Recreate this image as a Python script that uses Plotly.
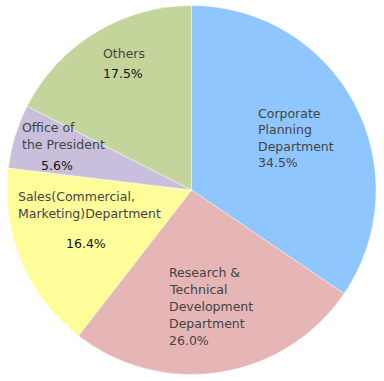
import plotly.graph_objects as go

labels = ["Corporate Planning Department", "Research & Technical Development Department",
          "Sales(Commercial, Marketing)Department", "Office of the President", "Others"]
values = [34.5, 26.0, 16.4, 5.6, 17.5]
colors = ["#8FC6FD", "#E6B5B5", "#FFFD9A", "#C9BFDD", "#C4D59C"]
label_lines = [
    ["Corporate", "Planning", "Department"],
    ["Research &", "Technical", "Development", "Department"],
    ["Sales(Commercial,", "Marketing)Department"],
    ["Office of", "the President"],
    ["Others"],
]
pct_text = [f"{v:.1f}%" for v in values]

W, H = 384, 381
ML, MR, MT, MB = 7, 8, 5, 6
PW, PH = W - ML - MR, H - MT - MB

# label layout (pixel positions of text lines)
name_pos = [(256, 113.5, 16.3), (166.5, 272.5, 16.9), (16, 196.5, 16.5), (20, 127.5, 16.7), (100.5, 54, 19)]
pct_pos = [((256, 162), "left", "#444"), ((166.5, 340), "left", "#444"), ((86, 243), "center", "#111"),
           ((56.5, 165), "center", "#111"), ((100.5, 73.5), "left", "#111")]

def px(x):
    return (x - ML) / PW

def py(y):
    return 1 - (y - MT) / PH

fig = go.Figure(go.Pie(
    labels=labels, values=values, sort=False, direction="clockwise", rotation=0,
    marker=dict(colors=colors, line=dict(color="rgba(255,255,255,0.6)", width=0.7)),
    textinfo="none", hoverinfo="label+percent", showlegend=False,
))

ann = []
for lines, (x0, y0, dy) in zip(label_lines, name_pos):
    for i, t in enumerate(lines):
        ann.append(dict(x=px(x0), y=py(y0 + i * dy), xref="paper", yref="paper", text=t,
                        showarrow=False, xanchor="left", yanchor="middle",
                        font=dict(family="DejaVu Sans", size=12.5, color="#444")))
for t, ((x0, y0), anchor, col) in zip(pct_text, pct_pos):
    ann.append(dict(x=px(x0), y=py(y0), xref="paper", yref="paper", text=t,
                    showarrow=False, xanchor=anchor, yanchor="middle",
                    font=dict(family="DejaVu Sans", size=12.5, color=col)))

fig.update_layout(width=W, height=H, margin=dict(l=ML, r=MR, t=MT, b=MB),
                  paper_bgcolor="white", plot_bgcolor="white", annotations=ann)
fig.write_html("out.html", config={"displayModeBar": False},
               post_script="document.body.style.margin='0';document.body.style.overflow='hidden';")
